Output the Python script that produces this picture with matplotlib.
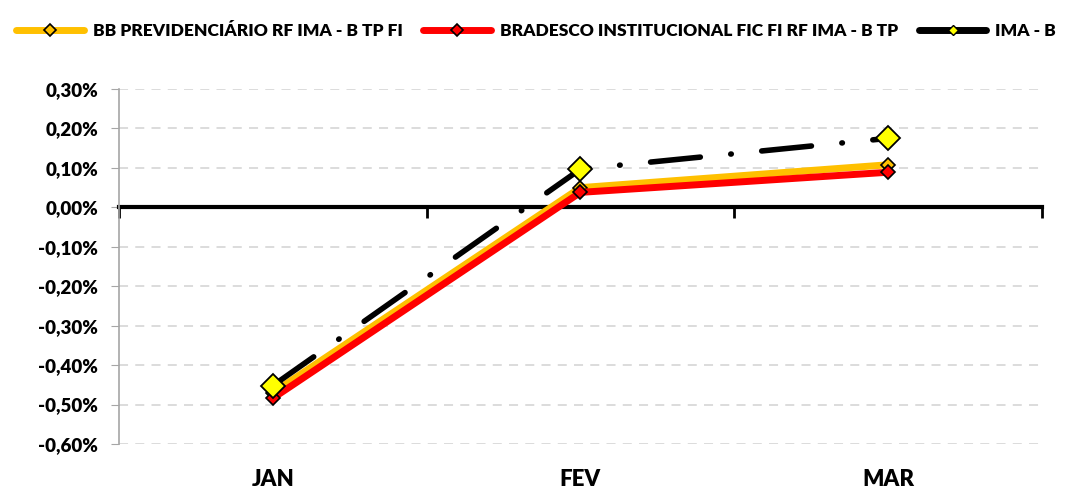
import numpy as np
import matplotlib.pyplot as plt
from matplotlib.lines import Line2D
from matplotlib.ticker import FuncFormatter

plt.rcParams['font.family'] = ['Lato', 'DejaVu Sans']
plt.rcParams['font.weight'] = 'heavy'

# dados (em %)
meses = ['JAN', 'FEV', 'MAR']
bb_prev = [-0.47, 0.05, 0.108]
bradesco = [-0.484, 0.038, 0.089]
ima_b = [-0.452, 0.097, 0.175]

nomes = ['BB PREVIDENCIÁRIO RF IMA - B TP FI',
         'BRADESCO INSTITUCIONAL FIC FI RF IMA - B TP',
         'IMA - B']
y_ticks = [0.3, 0.2, 0.1, 0.0, -0.1, -0.2, -0.3, -0.4, -0.5, -0.6]

fig = plt.figure(figsize=(10.72, 4.91), dpi=100)
ax = fig.add_axes([0.111, 0.0957, 0.861, 0.723])

x = np.arange(len(meses))

ax.plot(x, bb_prev, color='#FFC000', lw=5, marker='D', ms=7,
        mfc='#FFC000', mec='black', mew=1.2, zorder=3, solid_capstyle='round')
ax.plot(x, bradesco, color='#FF0000', lw=5, marker='D', ms=7,
        mfc='#FF0000', mec='black', mew=1.2, zorder=4, solid_capstyle='round')
ax.plot(x, ima_b, color='black', lw=4, dashes=(9, 5.5, 0.1, 5.5),
        dash_capstyle='round', zorder=5)
ax.plot(x, ima_b, ls='none', marker='D', ms=12, mfc='#FFFF00', mec='black',
        mew=1.3, zorder=6)

ax.set_xlim(-0.5, 2.5)
ax.set_ylim(-0.6, 0.3)
ax.set_yticks(y_ticks)
ax.yaxis.set_major_formatter(FuncFormatter(lambda v, p: ('%.2f%%' % v).replace('.', ',')))
ax.tick_params(axis='y', direction='out', length=6, color='#A6A6A6', labelsize=13.5, pad=9)
for t in ax.get_yticklabels():
    t.set_fontweight('heavy')
ax.grid(axis='y', color='#D9D9D9', ls=(0, (5, 4)), lw=1.3, zorder=0)

for s in ['top', 'right']:
    ax.spines[s].set_visible(False)
ax.spines['left'].set_color('#A6A6A6')
ax.spines['left'].set_linewidth(1.2)
ax.spines['bottom'].set_position(('data', 0))
ax.spines['bottom'].set_linewidth(3)
ax.spines['bottom'].set_zorder(2)

ax.set_xticks(x)
ax.set_xticklabels([])
ax.tick_params(axis='x', which='major', length=0)
ax.set_xticks([-0.5, 0.5, 1.5, 2.5], minor=True)
ax.tick_params(axis='x', which='minor', direction='out', length=8, width=2, color='black')

for i, m in enumerate(meses):
    ax.text(i, -0.099, m, transform=ax.get_xaxis_transform(), ha='center', va='center',
            fontsize=16, fontweight='heavy')

handles = [
    Line2D([], [], color='#FFC000', lw=5, marker='D', ms=6, mfc='#FFC000', mec='black',
           mew=1.2, solid_capstyle='round'),
    Line2D([], [], color='#FF0000', lw=5, marker='D', ms=6, mfc='#FF0000', mec='black',
           mew=1.2, solid_capstyle='round'),
    Line2D([], [], color='black', lw=5, marker='D', ms=5, mfc='#FFFF00', mec='black',
           mew=1, solid_capstyle='round'),
]
fig.legend(handles, nomes, loc='upper center', bbox_to_anchor=(0.5, 0.985), ncol=3,
           frameon=False, handlelength=3.9, numpoints=1,
           columnspacing=1.2, handletextpad=0.5, prop={'weight': 'heavy', 'size': 12.5})

fig.savefig('out.png', dpi=100)
